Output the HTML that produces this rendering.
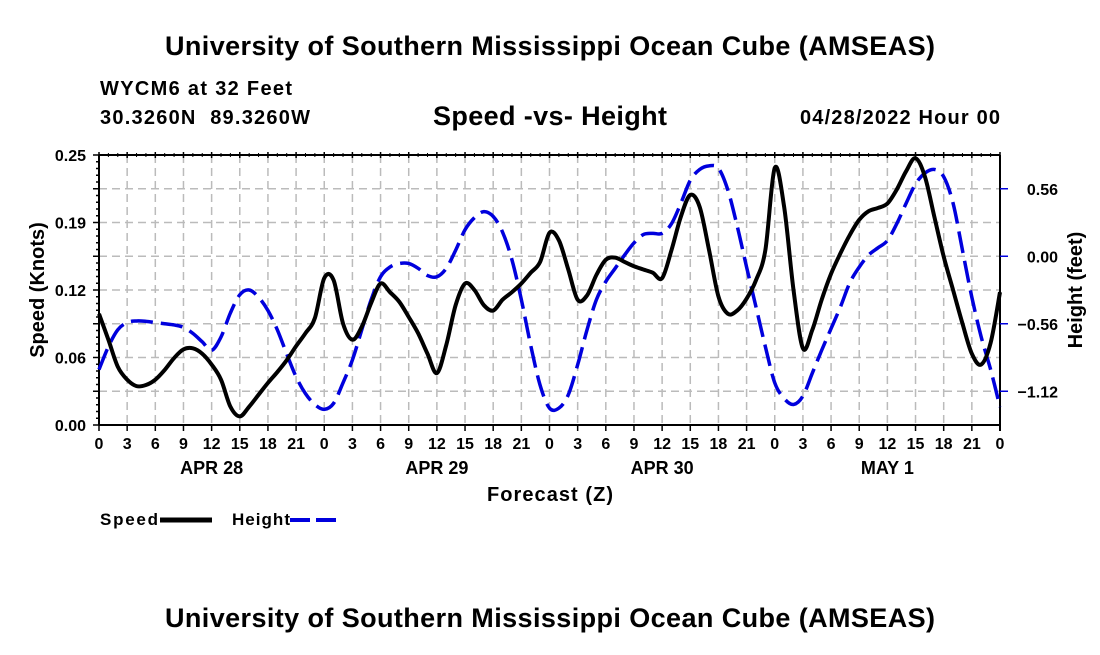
<!DOCTYPE html>
<html><head><meta charset="utf-8"><style>
body{margin:0;background:#fff;width:1100px;height:650px;overflow:hidden}
svg{font-family:"Liberation Sans",sans-serif;font-weight:bold}
</style></head><body>
<svg id="c" width="1100" height="650">
<text x="550" y="55" text-anchor="middle" font-size="27" textLength="770">University of Southern Mississippi Ocean Cube (AMSEAS)</text>
<text x="100" y="95" font-size="20" textLength="192">WYCM6 at 32 Feet</text>
<text x="100" y="124" font-size="20" textLength="210" xml:space="preserve">30.3260N  89.3260W</text>
<text x="550" y="125" text-anchor="middle" font-size="27" textLength="234">Speed -vs- Height</text>
<text x="1000" y="124" text-anchor="end" font-size="20" textLength="200">04/28/2022 Hour 00</text>
<g id="grid"></g>
<g id="axes"></g>
<g id="series"></g>
<text x="550" y="501" text-anchor="middle" font-size="20" textLength="126">Forecast (Z)</text>
<text transform="translate(44,290) rotate(-90)" text-anchor="middle" font-size="20">Speed (Knots)</text>
<text transform="translate(1082,290) rotate(-90)" text-anchor="middle" font-size="20">Height (feet)</text>
<g>
<text x="100" y="525" font-size="17" textLength="58">Speed</text>
<line x1="160" y1="520" x2="212" y2="520" stroke="#000" stroke-width="5"/>
<text x="232" y="525" font-size="17" textLength="58">Height</text>
<line x1="290" y1="520" x2="342" y2="520" stroke="#0000dd" stroke-width="4" stroke-dasharray="20,6"/>
</g>
<text x="550" y="627" text-anchor="middle" font-size="27" textLength="770">University of Southern Mississippi Ocean Cube (AMSEAS)</text>
</svg>
<script>
const hours=[];for(let h=0;h<=96;h++)hours.push(h);
const speed=[0.103,0.079,0.054,0.042,0.036,0.037,0.042,0.051,0.062,0.070,0.071,0.066,0.056,0.042,0.017,0.008,0.017,0.028,0.039,0.049,0.060,0.073,0.085,0.099,0.136,0.134,0.094,0.079,0.091,0.113,0.131,0.123,0.114,0.100,0.085,0.066,0.048,0.074,0.111,0.131,0.125,0.111,0.106,0.116,0.123,0.131,0.141,0.151,0.178,0.171,0.144,0.116,0.120,0.139,0.153,0.155,0.151,0.147,0.144,0.141,0.136,0.162,0.193,0.213,0.202,0.162,0.119,0.103,0.106,0.117,0.134,0.162,0.238,0.202,0.125,0.071,0.088,0.116,0.140,0.159,0.176,0.190,0.198,0.201,0.205,0.218,0.235,0.247,0.230,0.193,0.156,0.125,0.094,0.066,0.056,0.076,0.123];
const height=[-0.94,-0.75,-0.61,-0.55,-0.537,-0.54,-0.55,-0.56,-0.57,-0.59,-0.64,-0.71,-0.78,-0.67,-0.47,-0.32,-0.28,-0.34,-0.45,-0.61,-0.81,-1.00,-1.14,-1.23,-1.27,-1.22,-1.05,-0.86,-0.61,-0.36,-0.17,-0.09,-0.06,-0.06,-0.10,-0.16,-0.17,-0.10,0.05,0.22,0.32,0.37,0.33,0.20,-0.03,-0.36,-0.74,-1.07,-1.26,-1.26,-1.15,-0.90,-0.61,-0.36,-0.21,-0.10,0.01,0.11,0.18,0.19,0.19,0.27,0.44,0.63,0.72,0.75,0.73,0.55,0.25,-0.09,-0.42,-0.75,-1.05,-1.18,-1.23,-1.16,-0.97,-0.78,-0.60,-0.42,-0.22,-0.09,0.01,0.07,0.13,0.27,0.44,0.60,0.69,0.72,0.66,0.44,0.05,-0.34,-0.67,-0.94,-1.25];
const speedTicks=[0,0.0625,0.125,0.1875,0.25];
const speedTickLabels=["0.00","0.06","0.12","0.19","0.25"];
const heightTicks=[-1.12,-0.56,0,0.56];
const heightTickLabels=["\u22121.12","\u22120.56","0.00","0.56"];
const dayLabels=["APR 28","APR 29","APR 30","MAY 1"];
const X0=99,X1=1000,Y0=155,Y1=425;
const xs=h=>X0+(h-0)/96*(X1-X0);
const ys=v=>Y1-(v-0)/0.25*(Y1-Y0);
const yh=v=>Y1-(v+1.40)/2.24*(Y1-Y0);
const NS='http://www.w3.org/2000/svg';
function mk(p,t,a){const e=document.createElementNS(NS,t);for(const k in a)e.setAttribute(k,a[k]);p.appendChild(e);return e;}
const grid=document.getElementById('grid'),axes=document.getElementById('axes'),ser=document.getElementById('series');
for(let i=1;i<8;i++){const y=ys(0.25*i/8);const l=mk(grid,'line',{x1:X0,x2:X1,y1:y,y2:y,stroke:'#bbb','stroke-width':1.5,'stroke-dasharray':'8,5'});
}
for(let h=3;h<96;h+=3){const x=xs(h);const l=mk(grid,'line',{x1:x,x2:x,y1:Y0,y2:Y1,stroke:'#bbb','stroke-width':1.5,'stroke-dasharray':'8,5'});
}
const frame=[[X0,Y0,X0,Y1],[X1,Y0,X1,Y1+6],[X0,Y1,X1,Y1],[X0,Y0,X1,Y0]];
frame.forEach(f=>{const l=mk(axes,'line',{x1:f[0],y1:f[1],x2:f[2],y2:f[3],stroke:'#000','stroke-width':2});});
for(let i=0;i<=40;i++){const y=ys(0.25*i/40);mk(axes,'line',{x1:X0-(i%5==0?6:3),x2:X0,y1:y,y2:y,stroke:'#000','stroke-width':1.5});}
speedTicks.forEach((v,i)=>{const t=mk(axes,'text',{x:X0-13,y:ys(v)+6,'text-anchor':'end','font-size':16});t.textContent=speedTickLabels[i];
});
heightTicks.forEach((v,i)=>{mk(axes,'line',{x1:X1,x2:X1+8,y1:yh(v),y2:yh(v),stroke:'#00d','stroke-width':1.5});
const t=mk(axes,'text',{x:X1+58,y:yh(v)+6,'text-anchor':'end','font-size':16});t.textContent=heightTickLabels[i];
});
for(let h=0;h<=96;h+=1){const x=xs(h);
if(h%3==0){mk(axes,'line',{x1:x,x2:x,y1:Y1,y2:Y1+6,stroke:'#000','stroke-width':1.5});mk(axes,'line',{x1:x,x2:x,y1:Y0-3,y2:Y0+3,stroke:'#000','stroke-width':1.5});
const t=mk(axes,'text',{x:x,y:Y1+24,'text-anchor':'middle','font-size':16});t.textContent=String(h%24);
}
else mk(axes,'line',{x1:x,x2:x,y1:Y0-2,y2:Y0+2,stroke:'#000','stroke-width':1});}
dayLabels.forEach((d,i)=>{const t=mk(axes,'text',{x:xs(12+24*i),y:Y1+49,'text-anchor':'middle','font-size':18});t.textContent=d;
});
function path(vals,fy){const p=vals.map((v,i)=>[xs(hours[i]),fy(v)]);let d='M'+p[0][0]+','+p[0][1];
for(let i=0;i<p.length-1;i++){const a=p[Math.max(0,i-1)],b=p[i],c=p[i+1],e=p[Math.min(p.length-1,i+2)];
d+=' C'+(b[0]+(c[0]-a[0])/6)+','+(b[1]+(c[1]-a[1])/6)+' '+(c[0]-(e[0]-b[0])/6)+','+(c[1]-(e[1]-b[1])/6)+' '+c[0]+','+c[1];}return d;}
const hp=mk(ser,'path',{d:path(height,yh),fill:'none',stroke:'#0000dd','stroke-width':3.5,'stroke-dasharray':'22,8'});

const sp=mk(ser,'path',{d:path(speed,ys),fill:'none',stroke:'#000','stroke-width':4});

</script>
</body></html>
